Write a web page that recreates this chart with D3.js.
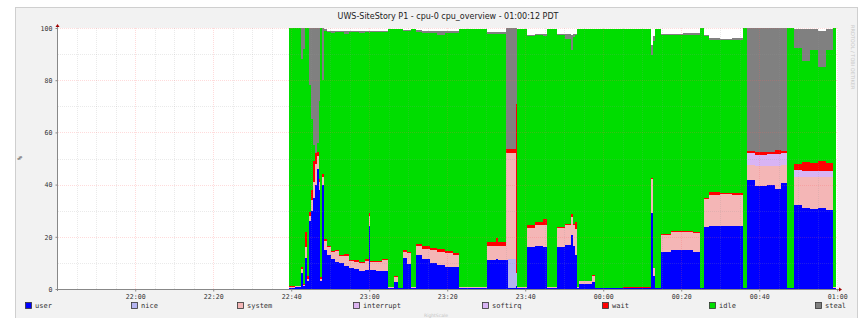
<!DOCTYPE html>
<html><head><meta charset="utf-8">
<script src="https://cdn.jsdelivr.net/npm/d3@7"></script>
<style>body{margin:0;background:#fff}svg{display:block}</style>
</head><body><svg id="c" width="858" height="318"></svg>
<script>
// ---- DATA (minutes after 22:00, step segments) ----
const minutes = [39.4,41.0,42.6,43.1,43.6,44.0,44.6,45.1,45.6,46.1,46.6,47.1,47.5,48.0,48.35,49.2,50.3,51.2,52.2,53.5,54.8,56.0,57.5,59.0,59.9,60.3,61.8,63.2,64.8,66.3,67.3,68.6,69.7,70.7,72.0,73.5,75.5,77.5,79.5,81.5,83.0,90.1,92.5,93.0,95.0,95.6,97.7,97.9,100.5,102.5,104.5,105.7,108.1,110.3,111.7,112.3,112.8,113.4,113.8,117.2,117.9,125.0,132.2,132.8,133.3,134.8,137.5,140.5,143.0,144.8,145.8,147.0,150.0,153.0,155.8,156.8,159.0,162.0,164.0,165.5,167.1,168.8,171.0,173.0,175.0,177.0,178.9];
const endMinute = 179.8;
const user = [0.3,0.6,6,1,12,3,26,30,35,40,46,38,3,40,15,13,11.5,10.5,9.8,9,8,7.5,7,7.3,24,7.2,7,7,0.3,2.8,0.3,12,9.5,0.3,13,11.5,10,9.2,8.6,8.3,0.3,11,11.5,11,11,0.5,1,0.3,16,16.5,16,0.3,16,17,20.7,16.5,13,0.3,2,2.8,0.2,0.3,29,5,0.2,14.3,15,14.8,14.3,0.2,23.6,24.2,24,24.2,0.3,41.7,39.5,40,38.5,40.5,0.3,32,31,30.5,31,30.3,0.3];
const nice = [0,0,0,0,0,0,0,0,0,0,0,0,0,0,0,0,0,0,0,0,0,0,0,0,0,0,0,0,0,0,0,0,0,0,0,0,0,0,0,0,0,0,0,0,0,11,5,0,0,0,0,0,0,0,0,0,0,0,0,0,0,0,0,0,0,0,0,0,0,0,0,0,0,0,0,0,0,0,0,0,0,0,0,0,0,0,0];
const system = [0.6,0.4,1.5,0.5,4,1,2,4,6,8,5,3,1,3,3.5,3,2.5,4,2.8,3.5,2.8,3,2.8,3.6,4,3,3.3,4,0.3,1.9,0.2,2.3,4.2,0.3,3.5,3.8,4.8,5,5.2,4.6,0.3,5.5,5,5.5,41,40.5,0,0.3,7.5,8,8.5,0.3,7.3,7.5,7,8,10,0.3,1,2.2,0.2,0.2,13,3,0.2,6.4,6.8,7,7.2,0.2,11,12,12.3,12,0.2,6,7.5,7.2,8.6,7,0.2,11,12,12.3,12,12.5,0.3];
const interrupt = [0,0,0,0,0,0,0,0,0,0,0,0,0,0,0,0,0,0,0,0,0,0,0,0,0,0,0,0,0,0,0,0,0,0,0,0,0,0,0,0,0,0,0,0,0,0,0,0,0,0,0,0,0,0,0,0,0,0,0,0,0,0,0,0,0,0,0,0,0,0,0,0,0,0,0,0,0,0,0,0,0,0,0,0,0,0,0];
const softirq = [0,0,0,0,0,0,0,0,0,0,0,0,0,0,0,0,0,0,0,0,0,0,0,0,0,0,0,0,0,0,0,0,0,0,0,0,0,0,0,0,0,0,0,0,0,0,0,0,0,0,0,0,0,0,0,0,0,0,0,0,0,0,0,0,0,0,0,0,0,0,0,0,0,0,0,4.5,4.5,4.6,4.5,4.6,0,2.5,2.2,2.5,2.2,2.5,0];
const wait = [0.2,0.3,1,0.5,6,1,1.5,4,8,4,1.5,1,0.5,1,0.8,0.5,0.6,0.5,0.5,0.8,0.5,0.6,0.4,0.5,1,0.5,0.6,0.5,0,0.3,0,0.5,0.5,0,0.6,1,1,1,0.6,0.8,0,1.5,3,1.5,1.5,1.5,65,0,1,1,2.5,0,0.5,0.5,1,0.5,2.5,0,0.2,0.2,0.1,0.2,0.5,0,0,0.3,0.4,0.5,0.3,0,0.3,0.8,0.4,0.4,0,0.5,0.8,0.5,1.5,0.8,0,2.5,3.5,2.8,3.8,3,0];
const idle = [98.9,98.7,79.5,90,78,95,48.5,27,6,0,3.5,30,95.5,36,79.7,82,83.4,83.5,85.4,84.5,87.2,87.4,87.8,87.1,69,87.8,87.4,87,98.9,94.5,99,84,84.6,98.9,81.3,81.7,82.4,82.1,83.8,84.5,99,79.8,78.3,79.8,0,0,0,99,72.5,71.7,70.1,99.2,73.4,70.7,62.8,71.7,71.7,99.2,96.5,94.5,99.1,99.1,47,87,99.2,76.2,75.1,75.2,75.7,99.6,62.1,58.5,58.6,58.9,99.5,0,0,0,0,0,99.5,44.5,38.8,43.4,36,43.2,99.4];
const steal = [0,0,12,8,0,0,22,35,45,48,44,28,0,20,0.5,0.5,1,0.5,0.5,1,0.5,0.5,0.8,0.5,1,0.5,0.5,0.5,0,0,0,0.5,0.5,0,0.8,1,0.8,1.5,0.8,0.8,0,0.5,0.5,0.5,46.5,46.5,29,0,0.5,0.5,0.5,0,0.5,2,6,1,0.5,0,0,0,0,0,4,2,0,0.5,0.5,0.5,0.5,0,0.5,0.5,0.5,0.5,0,47.3,47.7,47.7,46.9,47.1,0,7,12,8,14,8,0];

const seriesNames = ["user","nice","system","interrupt","softirq","wait","idle","steal"];
const seriesColors = ["#0000ff","#b4b4f0","#f4b6b6","#dcb4f0","#d8b4f4","#ff0000","#00dd00","#808080"];
const xTickLabels = ["22:00","22:20","22:40","23:00","23:20","23:40","00:00","00:20","00:40","01:00"];
const yTickValues = [0,20,40,60,80,100];
const title = "UWS-SiteStory P1 - cpu-0 cpu_overview - 01:00:12 PDT";

// ---- build ----
const base = new Date(2012,6,10,22,0,0);
const tm = m => new Date(base.getTime() + m*60000);
const seriesData = {user,nice,system,interrupt,softirq,wait,idle,steal};
const rows = minutes.map((m,i)=>{const r={t:tm(m)}; seriesNames.forEach(k=>r[k]=seriesData[k][i]); return r;});
const last = Object.assign({}, rows[rows.length-1], {t: tm(endMinute)});
rows.push(last);

const svg = d3.select("#c");
const L=58, R=838, T=28, B=289;
const x = d3.scaleTime().domain([tm(-19.8), tm(180.2)]).range([L,R]);
const y = d3.scaleLinear().domain([0,100]).range([B,T]);

// canvas
svg.append("rect").attr("x",15.5).attr("y",7.5).attr("width",842).attr("height",311).attr("fill","#f2f2f2").attr("stroke","#cfcfcf");
svg.append("rect").attr("x",L).attr("y",T).attr("width",R-L).attr("height",B-T).attr("fill","#fff");

// stacked areas
const stack = d3.stack().keys(seriesNames);
const layers = stack(rows);
const area = d3.area().curve(d3.curveStepAfter).x(d=>x(d.data.t)).y0(d=>y(d[0])).y1(d=>y(d[1]));
svg.append("g").selectAll("path").data(layers).join("path")
  .attr("d",area).attr("fill",(d,i)=>seriesColors[i]).attr("shape-rendering","crispEdges");

// grid (drawn over data, translucent)
const g = svg.append("g").attr("shape-rendering","crispEdges");
const parseTick = s => { let [h,mm]=s.split(":").map(Number); if(h<12) h+=24; return tm((h-22)*60+mm); };
const majorX = xTickLabels.map(parseTick);
const minorX = d3.timeMinute.every(5).range(tm(-19.8), tm(180.2)).filter(d=>!majorX.some(m=>+m===+d));
const minC = "rgba(150,150,150,0.2)", majC = "rgba(255,90,90,0.22)";
g.selectAll(".vmin").data(minorX).join("line").attr("x1",d=>Math.round(x(d))+0.5).attr("x2",d=>Math.round(x(d))+0.5)
  .attr("y1",T).attr("y2",B).attr("stroke",minC).attr("stroke-dasharray","1,1");
const minorY = d3.range(10,101,10).filter(v=>v%20!==0);
g.selectAll(".hmin").data(minorY).join("line").attr("y1",d=>Math.round(y(d))+0.5).attr("y2",d=>Math.round(y(d))+0.5)
  .attr("x1",L).attr("x2",R).attr("stroke",minC).attr("stroke-dasharray","1,1");
g.selectAll(".vmaj").data(majorX).join("line").attr("x1",d=>Math.round(x(d))+0.5).attr("x2",d=>Math.round(x(d))+0.5)
  .attr("y1",T).attr("y2",B).attr("stroke",majC).attr("stroke-dasharray","1,1");
g.selectAll(".hmaj").data(yTickValues.filter(v=>v>0)).join("line").attr("y1",d=>Math.round(y(d))+0.5).attr("y2",d=>Math.round(y(d))+0.5)
  .attr("x1",L).attr("x2",R).attr("stroke",majC).attr("stroke-dasharray","1,1");

// axes
const xAxis = d3.axisBottom(x).tickValues(majorX).tickFormat((d,i)=>xTickLabels[i]).tickSize(2).tickPadding(2);
const yAxis = d3.axisLeft(y).tickValues(yTickValues).tickSize(2).tickPadding(3);
const ax = svg.append("g").attr("transform",`translate(0,${B+0.5})`).call(xAxis);
const ay = svg.append("g").attr("transform",`translate(${L-0.5},0)`).call(yAxis);
[ax,ay].forEach(a=>{
  a.select(".domain").remove();
  a.selectAll("line").attr("stroke","#888");
  a.selectAll("text").attr("font-family","DejaVu Sans Mono").attr("font-size","6.6px").attr("fill","#333");
});
ax.selectAll("text").attr("dy","0.8em");
ay.selectAll("text").attr("dy","0.35em");
svg.append("line").attr("x1",L-0.5).attr("x2",L-0.5).attr("y1",B+2).attr("y2",T-2).attr("stroke","#888");
svg.append("line").attr("x1",L-2).attr("x2",R+2).attr("y1",B+0.5).attr("y2",B+0.5).attr("stroke","#888");
svg.append("path").attr("d",`M${L-2.5},${T-1} L${L-0.5},${T-4} L${L+1.5},${T-1} Z`).attr("fill","#a00000");
svg.append("path").attr("d",`M${R+1},${B-1.5} L${R+4},${B+0.5} L${R+1},${B+2.5} Z`).attr("fill","#a00000");

// title
svg.append("text").attr("x",(L+R)/2).attr("y",19).attr("text-anchor","middle")
  .attr("font-family","DejaVu Sans").attr("font-size","8px").attr("fill","#222").text(title);
// y label
svg.append("text").attr("transform","translate(22,158) rotate(-90)").attr("text-anchor","middle")
  .attr("font-family","DejaVu Sans Mono").attr("font-size","6.5px").attr("fill","#333").text("%");

// legend
const legendX = [25,131,237,353,482,602,709,815];
const lg = svg.append("g");
seriesNames.forEach((k,i)=>{
  lg.append("rect").attr("x",legendX[i]+0.5).attr("y",302.5).attr("width",6).attr("height",6)
    .attr("fill",seriesColors[i]).attr("stroke","#333").attr("stroke-width",0.8);
  lg.append("text").attr("x",legendX[i]+10).attr("y",308.2).attr("font-family","DejaVu Sans Mono")
    .attr("font-size","7px").attr("fill","#333").text(k);
});

// watermarks
svg.append("text").attr("x",436).attr("y",316.5).attr("text-anchor","middle").attr("font-family","DejaVu Sans")
  .attr("font-size","4.5px").attr("fill","#c4c4c4").text("RightScale");
svg.append("text").attr("transform","translate(851,25) rotate(90)").attr("font-family","DejaVu Sans")
  .attr("font-size","5px").attr("fill","#c8c8c8").text("RRDTOOL / TOBI OETIKER");
</script></body></html>
